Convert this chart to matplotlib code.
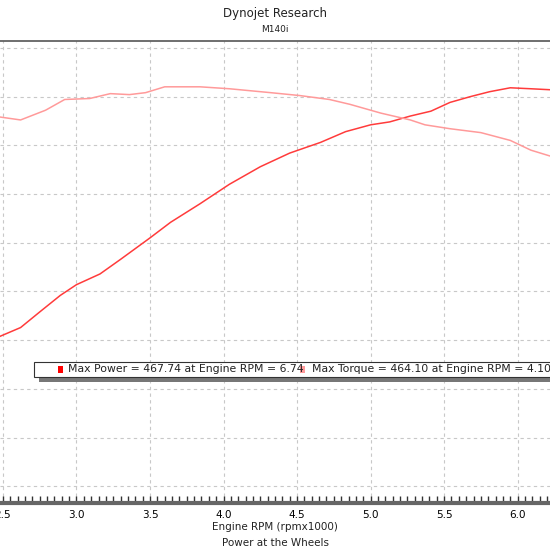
import matplotlib
matplotlib.use('Agg')
import matplotlib.pyplot as plt
from matplotlib.patches import Rectangle
from matplotlib.ticker import MultipleLocator

# engine rpm (x1000) and readings
power_rpm = [2.48, 2.62, 2.75, 2.89, 3.00, 3.16, 3.30, 3.50, 3.64, 3.84, 4.04, 4.25, 4.45,
             4.66, 4.83, 5.00, 5.13, 5.27, 5.41, 5.54, 5.68, 5.81, 5.95, 6.09, 6.22]
power = [204, 213, 229, 246, 257, 268, 283, 305, 321, 340, 360, 378, 392,
         403, 414, 421, 424, 430, 435, 444, 450, 455, 459, 458, 457]
torque_rpm = [2.48, 2.62, 2.79, 2.92, 3.09, 3.23, 3.36, 3.47, 3.60, 3.84, 4.04, 4.32,
              4.52, 4.72, 4.86, 5.07, 5.27, 5.37, 5.54, 5.75, 5.95, 6.09, 6.22]
torque = [429, 426, 436, 447, 448, 453, 452, 454, 460, 460, 458, 454,
          451, 447, 442, 433, 426, 421, 417, 413, 405, 395, 389]

legend_items = ['Max Power = 467.74 at Engine RPM = 6.74',
                'Max Torque = 464.10 at Engine RPM = 4.10']
power_color = '#ff3b3b'
torque_color = '#ff9a9a'

fig = plt.figure(figsize=(5.5, 5.5), dpi=100)
ax = fig.add_axes([0, 1 - 503 / 550, 1, (503 - 41) / 550])
ax.set_xlim(2.48, 6.22)
ax.set_ylim(33, 507)

ax.plot(power_rpm, power, color=power_color, lw=1.1)
ax.plot(torque_rpm, torque, color=torque_color, lw=1.1)

ax.xaxis.set_major_locator(MultipleLocator(0.5))
ax.xaxis.set_minor_locator(MultipleLocator(0.05))
ax.yaxis.set_major_locator(MultipleLocator(50))
ax.grid(True, which='major', ls=(0, (3, 3)), color='#c8c8c8', lw=0.8)
ax.tick_params(axis='x', which='both', direction='in', length=5, width=1,
               labelsize=7.5, color='#333333', pad=5)
ax.tick_params(axis='y', left=False, labelleft=False)
ax.set_xticklabels([f'{v:.1f}' for v in ax.get_xticks()])
for s in ['left', 'right']:
    ax.spines[s].set_visible(False)
ax.spines['top'].set_color('#555555')
ax.spines['top'].set_linewidth(1.2)
ax.spines['bottom'].set_color('#666666')
ax.spines['bottom'].set_linewidth(3)

fig.text(0.5, 1 - 14 / 550, 'Dynojet Research', ha='center', va='center', fontsize=8.5, color='#222222')
fig.text(0.5, 1 - 30 / 550, 'M140i', ha='center', va='center', fontsize=6.5, color='#222222')
fig.text(0.5, 1 - 527 / 550, 'Engine RPM (rpmx1000)', ha='center', va='center', fontsize=7.5, color='#222222')
fig.text(0.5, 1 - 543 / 550, 'Power at the Wheels', ha='center', va='center', fontsize=7.5, color='#222222')

# legend box with shadow
fig.patches.append(Rectangle((39 / 550, 1 - 382 / 550), 530 / 550, 15 / 550,
                             transform=fig.transFigure, facecolor='#777777', edgecolor='none'))
fig.patches.append(Rectangle((34 / 550, 1 - 377 / 550), 530 / 550, 15 / 550,
                             transform=fig.transFigure, facecolor='white', edgecolor='#333333', lw=0.8))
y_leg = 1 - 369.5 / 550
fig.patches.append(Rectangle((58 / 550, y_leg - 3.5 / 550), 5 / 550, 7 / 550,
                             transform=fig.transFigure, facecolor='#ff0000', edgecolor='none'))
fig.text(68 / 550, y_leg, legend_items[0], va='center', fontsize=7.8, color='#222222')
fig.patches.append(Rectangle((300 / 550, y_leg - 3.5 / 550), 5 / 550, 7 / 550,
                             transform=fig.transFigure, facecolor=torque_color, edgecolor='none'))
fig.text(312 / 550, y_leg, legend_items[1], va='center', fontsize=7.8, color='#222222')

fig.savefig('out.png', dpi=100)
